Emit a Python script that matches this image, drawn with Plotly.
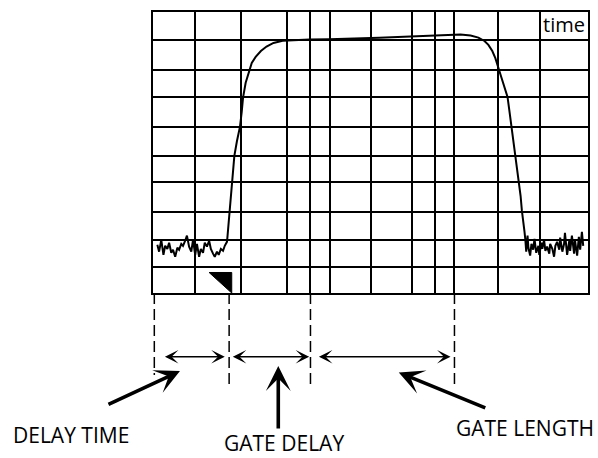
import plotly.graph_objects as go

# ---- screen graticule (in divisions) ----
grid_x = [0.97, 2.03, 3.09, 3.62, 4.07, 5.01, 5.95, 6.49, 6.91, 7.92, 8.90]
grid_y = [0.93, 1.88, 2.90, 3.94, 4.88, 5.92, 6.98, 7.92, 8.99]

# ---- trace: noise floor before the pulse ----
noise_l_x = [0.10, 0.14, 0.19, 0.24, 0.28, 0.33, 0.37, 0.42, 0.46, 0.51, 0.56, 0.60,
             0.65, 0.69, 0.74, 0.78, 0.83, 0.88, 0.92, 0.97, 1.01, 1.06, 1.10, 1.15,
             1.19, 1.24, 1.29, 1.33, 1.38, 1.42, 1.47, 1.51, 1.56, 1.61, 1.65, 1.70]
noise_l_y = [1.72, 1.47, 1.89, 1.36, 1.68, 1.57, 1.79, 1.43, 1.54, 1.29, 1.61, 1.54,
             1.75, 1.68, 1.86, 2.04, 1.65, 1.47, 1.89, 1.36, 1.75, 1.29, 1.57, 1.43,
             1.79, 1.65, 1.86, 1.57, 1.40, 1.29, 1.47, 1.36, 1.57, 1.50, 1.68, 1.82]

# ---- trace: pulse (rise, flat top, fall) ----
pulse_x = [1.71, 1.73, 1.76, 1.78, 1.81, 1.84, 1.87, 1.93, 2.00, 2.04, 2.07, 2.13,
           2.21, 2.27, 2.36, 2.48, 2.61, 2.77, 2.98, 3.25, 3.60, 4.05, 4.63, 5.20,
           5.77, 6.34, 6.80, 7.07, 7.30, 7.48, 7.62, 7.71, 7.80, 7.87, 7.93, 7.99,
           8.05, 8.15, 8.19, 8.24, 8.29, 8.32, 8.38, 8.41, 8.45, 8.48, 8.51, 8.54]
pulse_y = [1.97, 2.32, 2.85, 3.39, 3.91, 4.38, 4.88, 5.41, 5.92, 6.45, 6.95, 7.48,
           7.90, 8.19, 8.40, 8.61, 8.77, 8.90, 8.98, 9.00, 9.02, 9.03, 9.05, 9.08,
           9.12, 9.15, 9.19, 9.20, 9.16, 9.09, 8.97, 8.83, 8.61, 8.36, 8.06, 7.76,
           7.44, 6.98, 6.52, 5.92, 5.45, 4.92, 4.38, 3.97, 3.46, 2.93, 2.43, 2.18]

# ---- trace: noise floor after the pulse ----
noise_r_x = [8.56, 8.58, 8.61, 8.63, 8.67, 8.70, 8.74, 8.77, 8.81, 8.86, 8.88, 8.93,
             8.95, 8.99, 9.02, 9.06, 9.11, 9.13, 9.18, 9.22, 9.25, 9.29, 9.34, 9.36,
             9.41, 9.45, 9.47, 9.52, 9.57, 9.59, 9.63, 9.68, 9.70, 9.75, 9.79, 9.82,
             9.86, 9.89]
noise_r_y = [1.89, 1.47, 2.04, 1.61, 1.33, 1.75, 1.54, 1.93, 1.43, 1.68, 1.36, 1.79,
             1.57, 1.89, 1.50, 1.65, 1.40, 1.75, 1.57, 1.29, 1.68, 1.82, 1.54, 1.97,
             1.47, 1.75, 2.14, 1.36, 1.86, 1.50, 2.04, 1.40, 1.89, 1.33, 2.00, 1.54,
             2.18, 1.68]

# ---- trigger marker (triangle) ----
trigger_x = [1.29, 1.81, 1.81, 1.29]
trigger_y = [0.73, 0.73, 0.00, 0.73]

# ---- timing markers and spans ----
marker_times = [0.03, 1.75, 3.62, 6.93]
span_names = ["DELAY TIME", "GATE DELAY", "GATE LENGTH"]
span_start = [0.24, 1.80, 3.78]
span_end = [1.65, 3.59, 6.84]

FONT = "Open Sans"

fig = go.Figure()
fig.add_trace(go.Scatter(
    x=noise_l_x + pulse_x + noise_r_x,
    y=noise_l_y + pulse_y + noise_r_y,
    mode="lines", line=dict(color="black", width=2), hoverinfo="skip"))
fig.add_trace(go.Scatter(
    x=trigger_x, y=trigger_y, mode="lines", fill="toself",
    fillcolor="black", line=dict(color="black", width=1), hoverinfo="skip"))

shapes = []
marker_len = [-0.292, -0.324, -0.324, -0.324]
for t, yl in zip(marker_times, marker_len):
    shapes.append(dict(type="line", xref="x", yref="paper", x0=t, x1=t, y0=0, y1=yl,
                       line=dict(color="black", width=1.5, dash="11px,5px")))

annotations = [dict(x=9.45, y=9.54, xref="x", yref="y", text="time", showarrow=False,
                    font=dict(family=FONT, size=20, color="black"))]

span_y = -0.2267
for s, e in zip(span_start, span_end):
    annotations.append(dict(x=e, y=span_y, xref="x", yref="paper", ax=s, ay=0,
                            axref="x", ayref="pixel", text="", showarrow=True,
                            arrowhead=3, startarrowhead=3, arrowside="end+start",
                            arrowsize=1.5, startarrowsize=1.5, arrowwidth=1.5,
                            arrowcolor="black", standoff=0, startstandoff=0))

big_tip_x = [0.62, 2.88, 5.65]
big_tip_y = [-0.278, -0.260, -0.283]
big_tail = [(-73, 34), (0, 64), (88, 36)]
for x, y, (dx, dy) in zip(big_tip_x, big_tip_y, big_tail):
    annotations.append(dict(x=x, y=y, xref="x", yref="paper", ax=dx, ay=dy,
                            text="", showarrow=True, arrowhead=3, arrowsize=1.15,
                            arrowwidth=3.6, arrowcolor="black", standoff=0))

label_pos = [(-0.188, -0.5037), (0.301, -0.533), (0.856, -0.480)]
for name, (lx, ly) in zip(span_names, label_pos):
    annotations.append(dict(x=lx, y=ly, xref="paper", yref="paper", text=name,
                            showarrow=False, xanchor="center", yanchor="middle",
                            font=dict(family=FONT, size=21, color="black")))

axis_common = dict(showgrid=True, gridcolor="black", gridwidth=2, showline=True,
                   mirror=True, linecolor="black", linewidth=2, zeroline=False,
                   showticklabels=False, ticks="", fixedrange=True)

fig.update_layout(
    width=598, height=458,
    margin=dict(l=153, r=8, t=12, b=165),
    paper_bgcolor="white", plot_bgcolor="white",
    showlegend=False,
    xaxis=dict(range=[0, 10], tickvals=grid_x, **axis_common),
    yaxis=dict(range=[0, 10], tickvals=grid_y, **axis_common),
    shapes=shapes, annotations=annotations,
)

fig.write_html("out.html", config={"displayModeBar": False},
               post_script="document.body.style.margin='0px';")
